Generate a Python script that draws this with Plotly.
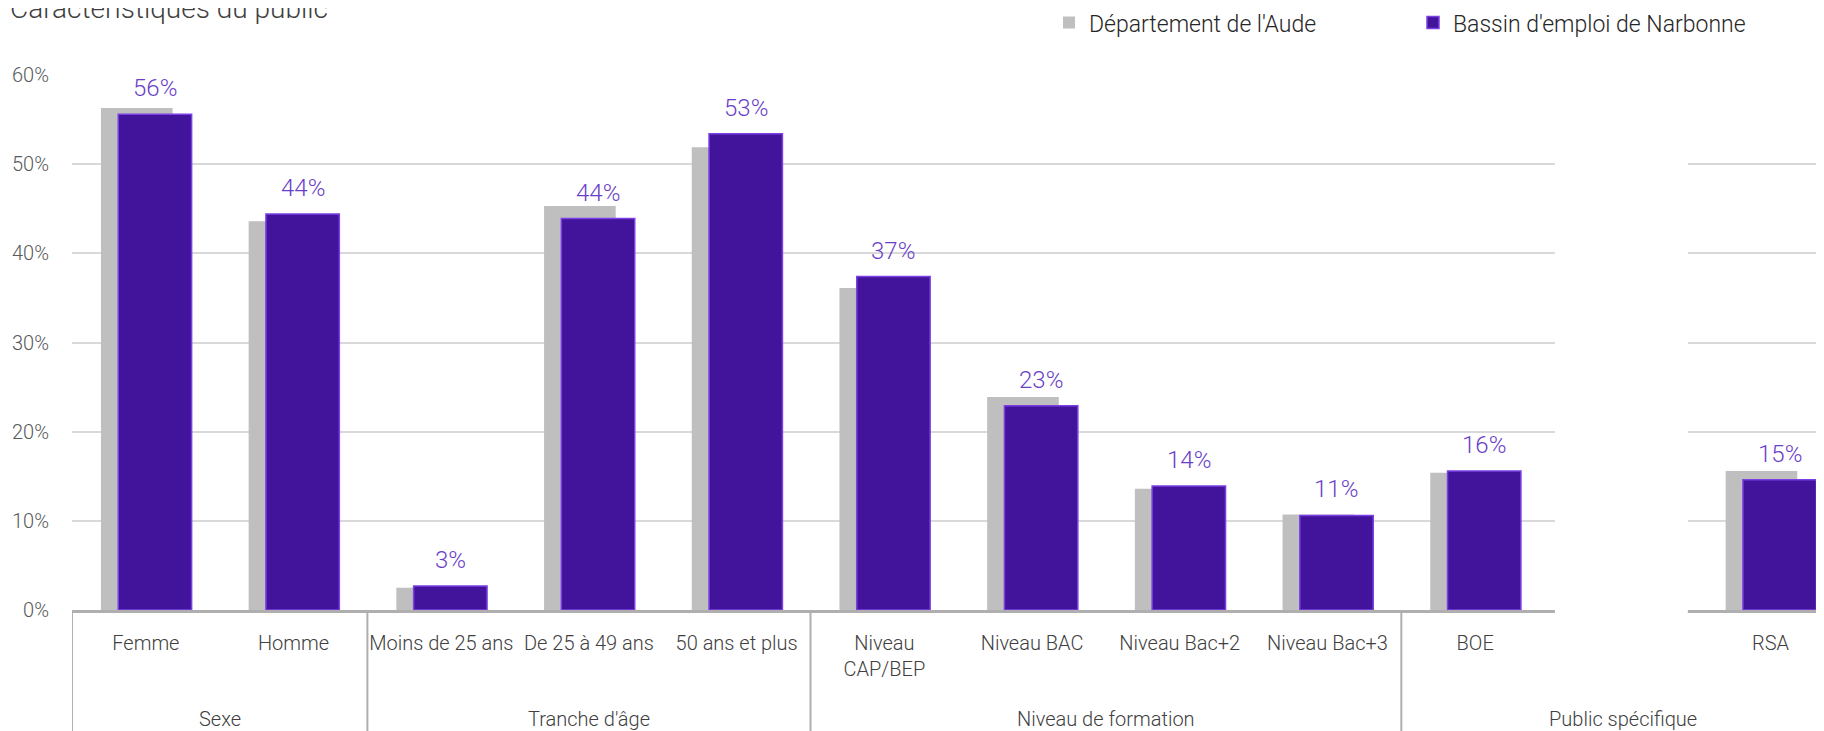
import plotly.graph_objects as go

# Données (part du public, en fraction)
categories = ["Femme", "Homme",
              "Moins de 25 ans", "De 25 à 49 ans", "50 ans et plus",
              "Niveau<br>CAP/BEP", "Niveau BAC", "Niveau Bac+2", "Niveau Bac+3",
              "BOE", " ", "RSA"]
groups = ["Sexe", "Tranche d'âge", "Niveau de formation", "Public spécifique"]
group_sizes = [2, 3, 4, 3]
aude = [0.563, 0.436, 0.025, 0.453, 0.519, 0.361, 0.239, 0.136, 0.107, 0.154, None, 0.156]
narbonne = [0.556, 0.444, 0.027, 0.439, 0.534, 0.374, 0.229, 0.139, 0.106, 0.156, None, 0.146]

FONT = "Roboto"
GRAY = "#BFBFBF"
PURPLE = "#41149B"
PURPLE_LINE = "#7B3FE4"
LABEL = "#6A3FC8"
AXIS = "#AFAFAF"

fig = go.Figure()
fig.add_bar(x=categories, y=aude, name="Département de l'Aude",
            marker=dict(color=GRAY, line=dict(width=0)),
            width=0.485, offset=-0.304)
fig.add_bar(x=categories, y=narbonne, name="Bassin d'emploi de Narbonne",
            marker=dict(color=PURPLE, line=dict(color=PURPLE_LINE, width=1.5)),
            width=0.497, offset=-0.187)

# étiquettes de valeur au-dessus des barres violettes
for cat, v in zip(categories, narbonne):
    if v is None:
        continue
    fig.add_annotation(x=cat, y=v, text=f"{v:.0%}", showarrow=False,
                       xshift=9, yshift=10, yanchor="bottom",
                       font=dict(family=FONT, size=24, color=LABEL, weight=300))

# séparateurs et libellés de groupe
start = 0
bounds = [-0.5]
for g, n in zip(groups, group_sizes):
    fig.add_annotation(x=start + (n - 1) / 2, y=-0.2044, yref="paper", text=g,
                       showarrow=False, yanchor="middle",
                       font=dict(family=FONT, size=20, color="#404040", weight=300))
    start += n
    bounds.append(start - 0.5)
for b in bounds:
    fig.add_shape(type="line", x0=b, x1=b, y0=0, y1=-0.3, yref="paper",
                  line=dict(color=AXIS, width=2))

# cache blanc entre BOE et RSA
fig.add_shape(type="rect", x0=9.54, x1=10.44, y0=-0.01, y1=1.03, yref="paper",
              fillcolor="white", line=dict(width=0), layer="above")

fig.update_layout(
    width=1824, height=731,
    margin=dict(l=64, r=0, t=66.5, b=129.4, autoexpand=False),
    plot_bgcolor="white", paper_bgcolor="white",
    barmode="overlay",
    font=dict(family=FONT, size=20, color="#404040", weight=300),
    legend=dict(orientation="h", x=(1041 - 64) / 1760, xanchor="left",
                y=1.098, yanchor="middle", entrywidth=319, entrywidthmode="pixels",
                font=dict(family=FONT, size=23, color="#262626", weight=300),
                bgcolor="rgba(0,0,0,0)"),
    showlegend=True,
)
fig.add_annotation(text="Caractéristiques du public", xref="paper", yref="paper",
                   x=-64 / 1760, y=1.0888, xanchor="left", yanchor="bottom",
                   showarrow=False,
                   font=dict(family=FONT, size=28, color="#404040", weight=300))

fig.update_xaxes(type="category", categoryorder="array", categoryarray=categories,
                 range=[-0.5, 11.416], showline=True, linecolor=AXIS, linewidth=2.5,
                 showgrid=False, ticks="", ticklabelstandoff=13,
                 tickfont=dict(family=FONT, size=20, color="#404040", weight=300))
fig.update_yaxes(range=[0, 0.6], dtick=0.1, tickformat=".0%",
                 showgrid=True, gridcolor="#D9D9D9", gridwidth=1.5,
                 zeroline=False, showline=False, ticks="", ticklabelstandoff=22,
                 tickfont=dict(family=FONT, size=20, color="#595959", weight=300))

fig.write_html("out.html")
